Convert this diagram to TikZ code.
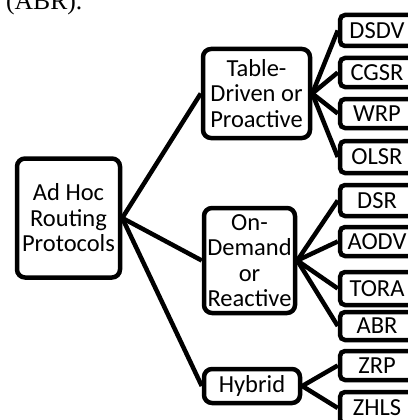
\documentclass[tikz,border=0pt]{standalone}
\usepackage{fontspec}
\setmainfont{Carlito}
\newfontfamily\abrfont{Liberation Serif}
\tikzset{
  box/.style={draw, line width=4.5pt, rounded corners=8pt, align=center, inner sep=0pt, fill=white,
              font=\fontsize{24.5}{25.5}\selectfont},
  leaf/.style={draw, line width=4.5pt, rounded corners=5pt, minimum width=74pt, inner sep=0pt, fill=white,
              font=\fontsize{24.5}{25.5}\selectfont},
  link/.style={line width=4.5pt},
}
\begin{document}
\begin{tikzpicture}[x=1pt,y=-1pt]
\useasboundingbox (0,0) rectangle (407,420);
\fill[white] (0,0) rectangle (407,420);
\node[anchor=base west, inner sep=0pt, font=\abrfont\fontsize{25.6}{28}\selectfont] (cap) at (6,9.5) {(ABR).};

\node[box, minimum width=103pt, minimum height=119pt] (root) at (68.5,218) {Ad Hoc\\Routing\\Protocols};
\node[box, minimum width=107pt, minimum height=89pt] (table) at (256.5,93.5) {Table-\\Driven or\\Proactive};
\node[box, minimum width=91pt, minimum height=105pt] (demand) at (249.5,260.5) {On-\\Demand\\or\\Reactive};
\node[box, minimum width=96pt, minimum height=34pt] (hybrid) at (252,386) {Hybrid};

\node[leaf, minimum height=31pt] (dsdv) at (377,30.5) {DSDV};
\node[leaf, minimum height=29pt] (cgsr) at (377,72.5) {CGSR};
\node[leaf, minimum height=29pt] (wrp) at (377,113.5) {WRP};
\node[leaf, minimum height=32pt] (olsr) at (377,157) {OLSR};
\node[leaf, minimum height=31pt] (dsr) at (377,200.5) {DSR};
\node[leaf, minimum height=29pt] (aodv) at (377,241.5) {AODV};
\node[leaf, minimum height=33pt] (tora) at (377,288.5) {TORA};
\node[leaf, minimum height=28pt] (abr) at (377,326) {ABR};
\node[leaf, minimum height=29pt] (zrp) at (377,365.5) {ZRP};
\node[leaf, minimum height=32pt] (zhls) at (377,408) {ZHLS};

\draw[link] (root.east) -- (table.west);
\draw[link] (root.east) -- (demand.west);
\draw[link] (root.east) -- (hybrid.west);
\foreach \t in {dsdv,cgsr,wrp,olsr} \draw[link] (table.east) -- (\t.west);
\foreach \t in {dsr,aodv,tora,abr} \draw[link] (demand.east) -- (\t.west);
\foreach \t in {zrp,zhls} \draw[link] (hybrid.east) -- (\t.west);
\end{tikzpicture}
\end{document}
